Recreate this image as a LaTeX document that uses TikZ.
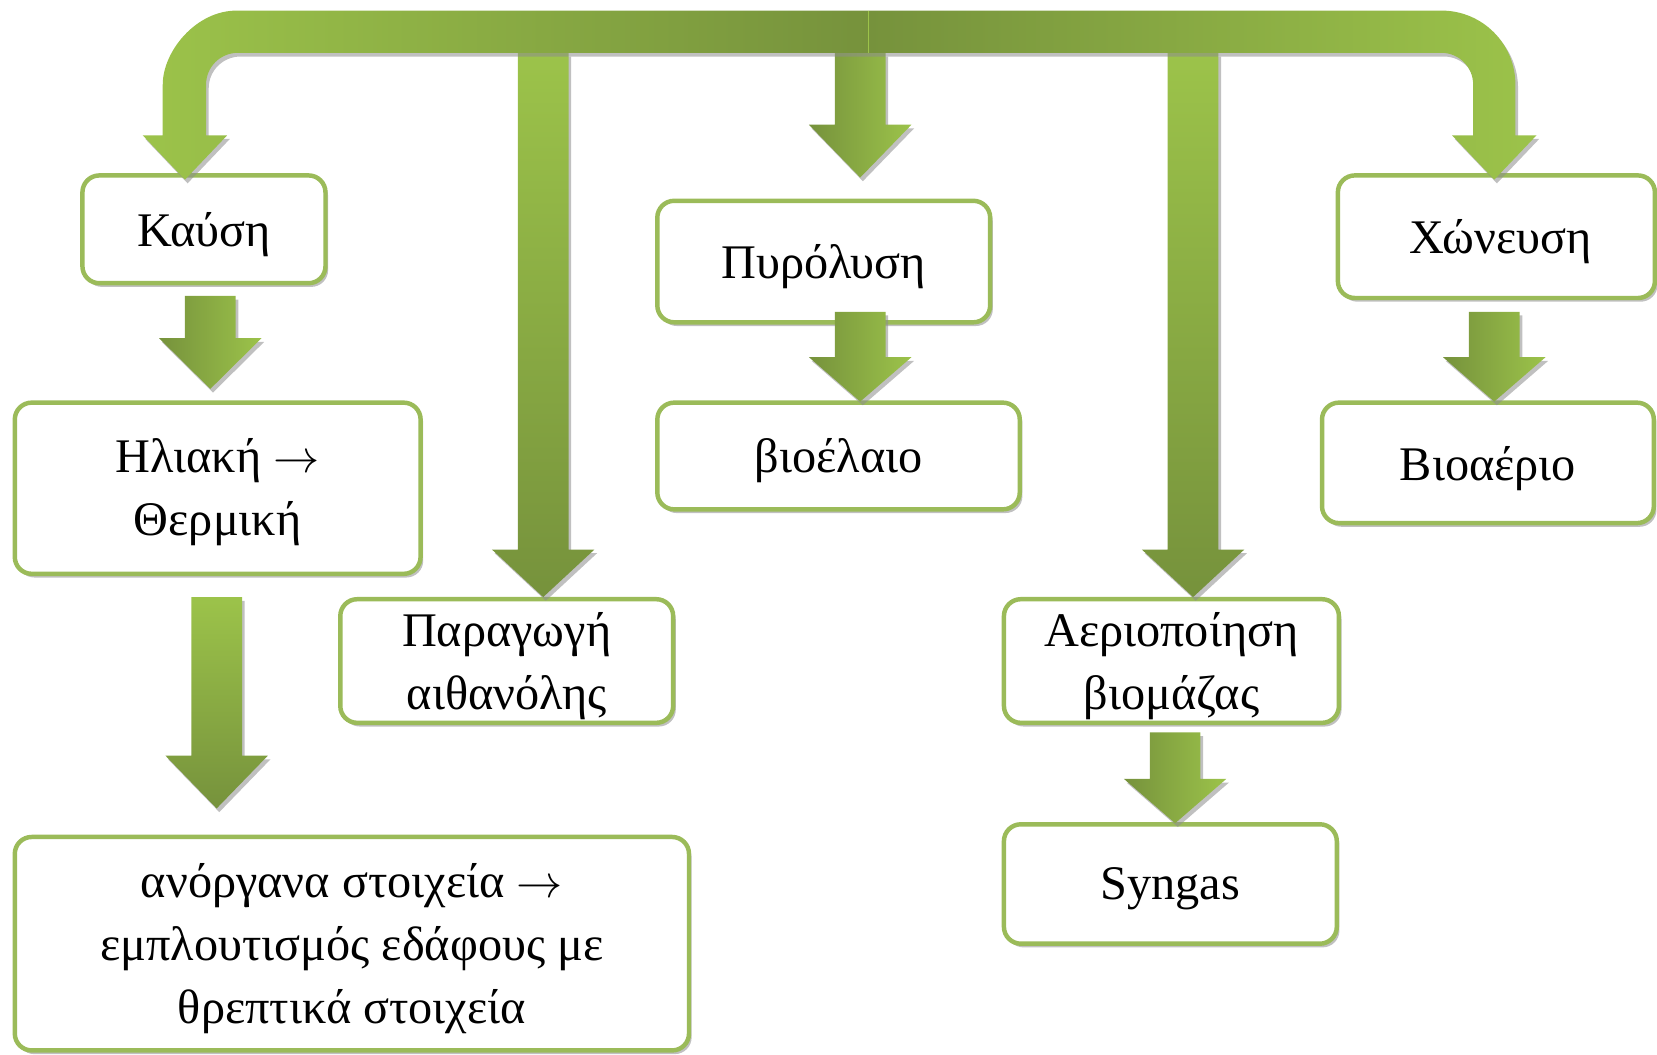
\documentclass[tikz,border=0pt]{standalone}
\usepackage{fontspec}
\setmainfont{Liberation Serif}
\usetikzlibrary{shadows}
\definecolor{glight}{HTML}{9CC34A}
\definecolor{gdark}{HTML}{76923C}
\definecolor{gborder}{HTML}{9BBB59}
\tikzset{
  shd/.style={drop shadow={shadow xshift=0.05cm, shadow yshift=-0.07cm, fill=black!45, opacity=0.55}},
  box/.style 2 args={shd, draw=gborder, line width=2.4pt, fill=white, rounded corners=0.32cm,
    minimum width={#1*0.02cm}, minimum height={#2*0.02cm}, inner sep=0pt},
  txt/.style={align=center, inner sep=0pt, font=\fontsize{26}{34}\selectfont},
  hgrad/.style={left color=gdark, right color=glight},
  vgrad/.style={top color=glight, bottom color=gdark},
}
\newcommand\blockarrow[5]{%
  \path[#5, shd] ({#1-24},#2) -- ({#1+24},#2) -- ({#1+24},#3) -- ({#1+48.5},#3)
    -- (#1,#4) -- ({#1-48.5},#3) -- ({#1-24},#3) -- cycle;}
\newcommand\ra{$\rightarrow$}
\begin{document}
\begin{tikzpicture}[x=0.02cm,y=-0.02cm]
\useasboundingbox (0,0) rectangle (1568,998);
% boxes
\node[box={230}{102}] (kausi) at (193,217) {};
\node[box={384}{162}] (iliaki) at (206,462) {};
\node[box={638}{202}] (anorg) at (333,893) {};
\node[box={315}{117}] (paragogi) at (479.5,625.5) {};
\node[box={315}{115}] (pyro) at (779.5,247.5) {};
\node[box={343}{101}] (bioel) at (793.5,431.5) {};
\node[box={317}{117}] (aerio) at (1108.5,625.5) {};
\node[box={315}{113}] (syngas) at (1107.5,836.5) {};
\node[box={300}{116}] (chon) at (1416,224) {};
\node[box={314}{114}] (bioaer) at (1408,438) {};
% texts
\node[txt] (kausiT) at (193,222) {Καύση};
\node[txt] (iliakiT) at (206,466) {Ηλιακή \ra\\Θερμική};
\node[txt] (anorgT) at (333,898) {ανόργανα στοιχεία \ra\\εμπλουτισμός εδάφους με\\θρεπτικά στοιχεία};
\node[txt] (paragogiT) at (479.5,630) {Παραγωγή\\αιθανόλης};
\node[txt] (pyroT) at (779.5,252) {Πυρόλυση};
\node[txt] (bioelT) at (793.5,436) {βιοέλαιο};
\node[txt] (aerioT) at (1108.5,630) {Αεριοποίηση\\βιομάζας};
\node[txt] (syngasT) at (1107.5,841) {Syngas};
\node[txt] (chonT) at (1420,229) {Χώνευση};
\node[txt] (bioaerT) at (1408,443) {Βιοαέριο};
% arrows between boxes
\blockarrow{199}{280}{320}{368}{hgrad}
\blockarrow{205}{565}{715}{765}{vgrad}
\blockarrow{814}{295}{338}{380}{hgrad}
\blockarrow{1414}{295}{338}{380}{hgrad}
\blockarrow{1112}{693}{737}{779}{hgrad}
% arrows from the bar
\blockarrow{514}{50}{520}{565}{vgrad}
\blockarrow{1129}{50}{520}{565}{vgrad}
\blockarrow{814}{50}{118}{168}{hgrad}
% top bar
\path[shd, left color=glight, right color=gdark]
  (822,10) -- (224,10) .. controls (185.3,10) and (154,48.7) .. (154,80)
  -- (154,128) -- (135,128) -- (175,170) -- (215,128) -- (195,128)
  -- (195,80) .. controls (195,63.4) and (208.4,50) .. (225,50) -- (822,50) -- cycle;
\path[shd, left color=gdark, right color=glight]
  (822,10) -- (1364,10) .. controls (1402.7,10) and (1434,41.3) .. (1434,80)
  -- (1434,128) -- (1454,128) -- (1414,170) -- (1374,128) -- (1394,128)
  -- (1394,80) .. controls (1394,63.4) and (1380.6,50) .. (1364,50) -- (822,50) -- cycle;
\draw[glight, line width=0.6pt] (822,10) -- (822,50);
\end{tikzpicture}
\end{document}
